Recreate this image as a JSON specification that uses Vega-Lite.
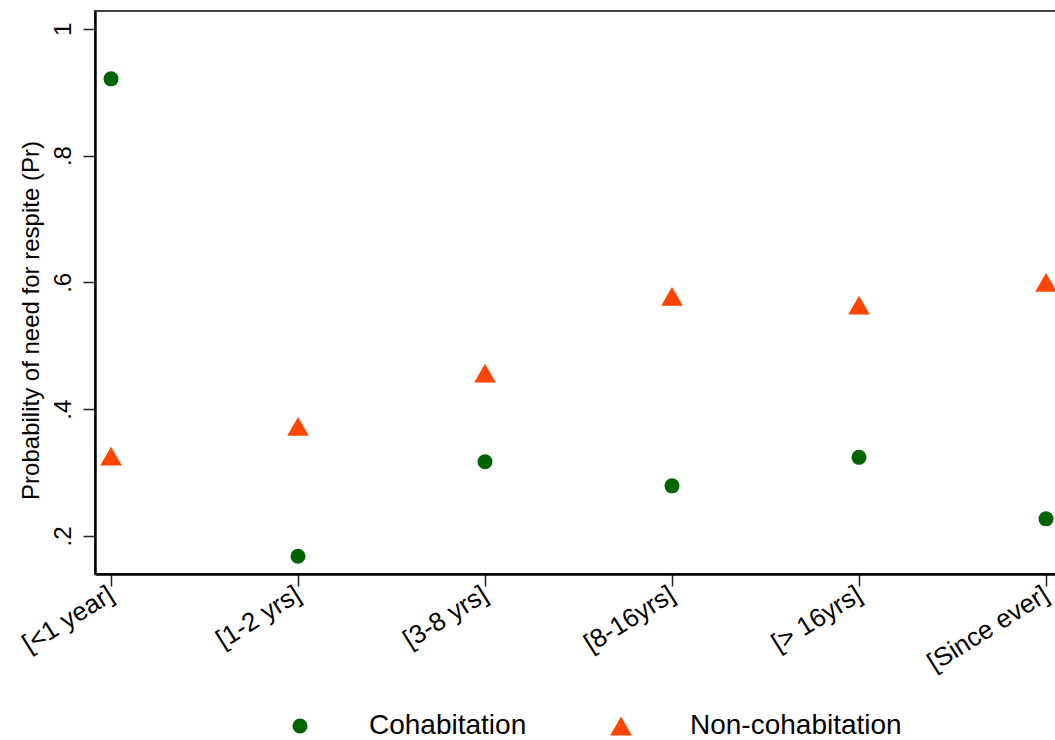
{
  "$schema": "https://vega.github.io/schema/vega-lite/v6.json",
  "autosize": {"type": "none"},
  "padding": {"left": 95, "top": 11, "right": 0, "bottom": 166},
  "width": 967,
  "height": 563,
  "background": "white",
  "config": {
    "font": "Liberation Sans",
    "view": {"stroke": "#444", "strokeWidth": 2},
    "axis": {"grid": false, "ticks": true, "domainColor": "black", "domainWidth": 2.5, "tickColor": "#222", "tickWidth": 1.5, "tickSize": 12, "labelColor": "black", "titleColor": "black", "labelFont": "Liberation Sans", "titleFont": "Liberation Sans"}
  },
  "data": {
    "values": [
      {"period": "[<1 year]", "group": "Cohabitation", "pr": 0.921},
      {"period": "[1-2 yrs]", "group": "Cohabitation", "pr": 0.168},
      {"period": "[3-8 yrs]", "group": "Cohabitation", "pr": 0.317},
      {"period": "[8-16yrs]", "group": "Cohabitation", "pr": 0.279},
      {"period": "[> 16yrs]", "group": "Cohabitation", "pr": 0.324},
      {"period": "[Since ever]", "group": "Cohabitation", "pr": 0.227},
      {"period": "[<1 year]", "group": "Non-cohabitation", "pr": 0.326},
      {"period": "[1-2 yrs]", "group": "Non-cohabitation", "pr": 0.373},
      {"period": "[3-8 yrs]", "group": "Non-cohabitation", "pr": 0.457},
      {"period": "[8-16yrs]", "group": "Non-cohabitation", "pr": 0.578},
      {"period": "[> 16yrs]", "group": "Non-cohabitation", "pr": 0.564},
      {"period": "[Since ever]", "group": "Non-cohabitation", "pr": 0.600}
    ]
  },
  "mark": {"type": "point", "filled": true, "opacity": 1},
  "encoding": {
    "x": {
      "field": "period", "type": "ordinal", "sort": null,
      "scale": {"type": "point", "padding": 0.0856},
      "axis": {"title": null, "labelAngle": -32, "labelAlign": "right", "labelBaseline": "middle", "labelFontSize": 26, "labelPadding": 6, "domainWidth": 2.5}
    },
    "y": {
      "field": "pr", "type": "quantitative",
      "scale": {"domain": [0.14, 1.028], "nice": false, "zero": false},
      "axis": {
        "title": "Probability of need for respite (Pr)", "titleFontSize": 24, "titleFontWeight": "normal", "titlePadding": 8, "titleY": 309, "titleAlign": "center",
        "values": [0.2, 0.4, 0.6, 0.8, 1],
        "labelExpr": "datum.value >= 1 ? '1' : substring(format(datum.value, '.1f'), 1)",
        "labelAngle": -90, "labelAlign": "center", "labelBaseline": "bottom", "labelFontSize": 24, "labelPadding": 8
      }
    },
    "color": {
      "field": "group", "type": "nominal",
      "scale": {"domain": ["Cohabitation", "Non-cohabitation"], "range": ["#006400", "#FF4500"]},
      "legend": {"title": null, "orient": "none", "legendX": 191, "legendY": 701, "direction": "horizontal", "columns": 2, "labelFontSize": 28, "labelLimit": 500, "labelOffset": 55, "columnPadding": 80, "labelColor": "black", "symbolOpacity": 1}
    },
    "shape": {
      "field": "group", "type": "nominal",
      "scale": {"domain": ["Cohabitation", "Non-cohabitation"], "range": ["circle", "triangle-up"]}
    },
    "size": {
      "field": "group", "type": "nominal",
      "scale": {"domain": ["Cohabitation", "Non-cohabitation"], "range": [225, 470]}
    }
  }
}
